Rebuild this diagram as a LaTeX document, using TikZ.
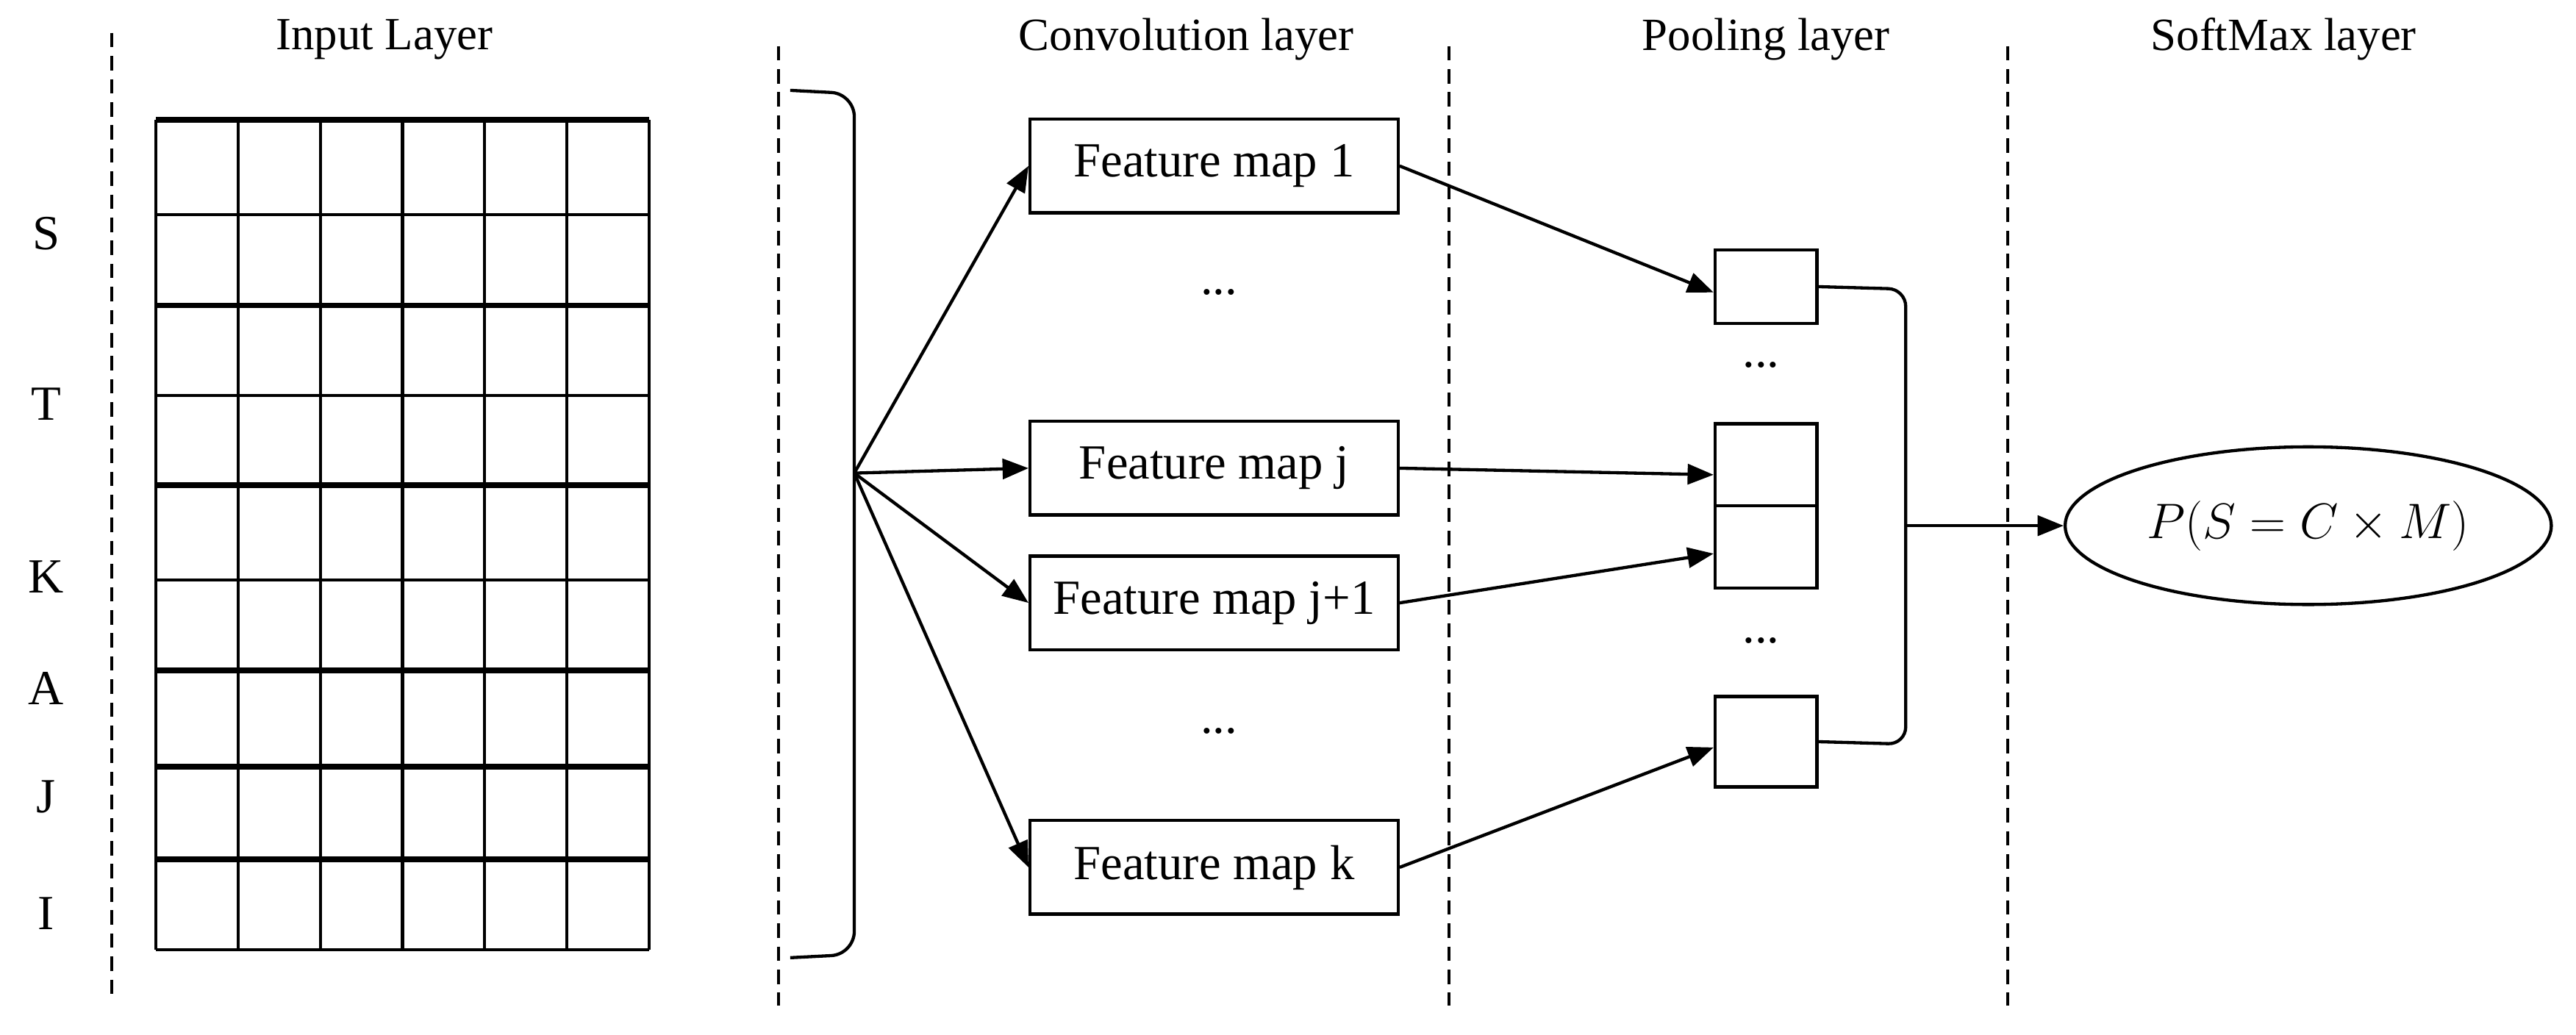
\documentclass[tikz,border=0pt]{standalone}
\usepackage{fontspec}
\setmainfont{Liberation Serif}
\usetikzlibrary{arrows.meta,shapes.geometric}
\begin{document}
\begin{tikzpicture}[x=0.02cm,y=-0.02cm,
  lw/.style={line width=1.1pt},
  sepline/.style={line width=0.9pt,dash pattern=on 5pt off 3pt},
  fm/.style={draw,lw,minimum width=4.48cm,minimum height=1.14cm,inner sep=0pt,font=\fontsize{17}{20}\selectfont},
  pb/.style={draw,lw,minimum width=1.24cm,inner sep=0pt},
  arr/.style={lw,-{Triangle[length=9pt,width=7pt]}},
  ttl/.style={font=\fontsize{16}{19}\selectfont},
  lab/.style={font=\fontsize{17}{20}\selectfont}]
\useasboundingbox (0,0) rectangle (1568,630);
% dashed separators
\draw[sepline] (68,20) -- (68,610);
\draw[sepline] (474,28) -- (474,612);
\draw[sepline] (882,28) -- (882,612);
\draw[sepline] (1222,28) -- (1222,612);
% titles
\node[ttl] (t1) at (234,24) {Input Layer};
\node[ttl] (t2) at (722,24) {Convolution layer};
\node[ttl] (t3) at (1075,24) {Pooling layer};
\node[ttl] (t4) at (1390,24) {SoftMax layer};
% grid
\foreach \x in {95,145,195,245,295,345,395} \draw[lw] (\x,73) -- (\x,578);
\foreach \y in {130.6,240.7,353.2} \draw[lw] (95,\y) -- (395,\y);
\foreach \y in {73,185.9,295.5,408,466.8,523.2} \draw[line width=2pt] (95,\y) -- (395,\y);
\draw[lw] (95,578) -- (395,578);
% row labels
\node[lab] (lS) at (28,142) {S};
\node[lab] (lT) at (28,246) {T};
\node[lab] (lK) at (28,351) {K};
\node[lab] (lA) at (28,419) {A};
\node[lab] (lJ) at (28,485) {J};
\node[lab] (lI) at (28,556) {I};
% bracket
\draw[lw,rounded corners=8pt] (481,55) -- (520,57) -- (520,581) -- (481,583);
\coordinate (fan) at (520,288);
% feature maps
\node[fm] (f1) at (739,101) {Feature map 1};
\node[fm] (fj) at (739,285) {Feature map j};
\node[fm] (fj1) at (739,367) {Feature map j+1};
\node[fm] (fk) at (739,528) {Feature map k};
\node[lab] (d1) at (742,178) {...};
\node[lab] (d2) at (742,445) {...};
\draw[arr] (fan) -- (f1.west);
\draw[arr] (fan) -- (fj.west);
\draw[arr] (fan) -- (fj1.west);
\draw[arr] (fan) -- (fk.west);
% pooling boxes
\node[pb,minimum height=0.9cm] (p1) at (1075,174.5) {};
\node[pb,minimum height=1.0cm] (pj) at (1075,283) {};
\node[pb,minimum height=1.0cm] (pj1) at (1075,333) {};
\node[pb,minimum height=1.1cm] (pk) at (1075,451.5) {};
\node[lab] (d3) at (1072,222) {...};
\node[lab] (d4) at (1072,390) {...};
\draw[arr] (f1.east) -- (p1.west |- 0,178);
\draw[arr] (fj.east) -- (pj.west |- 0,289);
\draw[arr] (fj1.east) -- (pj1.west |- 0,337);
\draw[arr] (fk.east) -- (pk.west |- 0,455);
% merging
\coordinate (m) at (1160,320);
\draw[lw,rounded corners=6pt] (p1.east) -- (1160,176) -- (1160,453) -- (pk.east);
\node[draw,lw,ellipse,minimum width=5.92cm,minimum height=1.92cm,font=\fontsize{16}{19}\selectfont] (sm) at (1405,320) {$P(S=C\times M)$};
\draw[arr] (m) -- (sm.west);
\end{tikzpicture}
\end{document}
